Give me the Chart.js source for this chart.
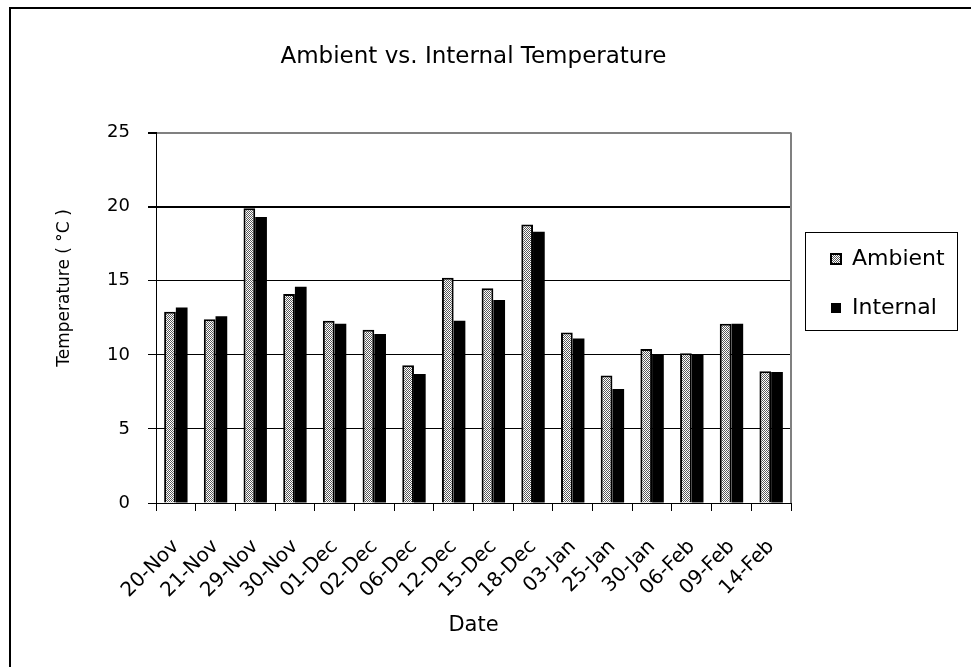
<!DOCTYPE html>
<html>
<head>
<meta charset="utf-8">
<title>Ambient vs. Internal Temperature</title>
<script src="https://cdn.jsdelivr.net/npm/chart.js@4/dist/chart.umd.min.js"></script>
<style>
  body { margin: 0; background: #fff; }
  canvas { display: block; }
</style>
</head>
<body>
<canvas id="grafico" width="971" height="667"></canvas>
<script>
// Datos
const fechas = ['20-Nov', '21-Nov', '29-Nov', '30-Nov', '01-Dec', '02-Dec', '06-Dec', '12-Dec',
                '15-Dec', '18-Dec', '03-Jan', '25-Jan', '30-Jan', '06-Feb', '09-Feb', '14-Feb'];
const ambiente = [12.9, 12.4, 19.9, 14.1, 12.3, 11.7, 9.3, 15.2, 14.5, 18.8, 11.5, 8.6, 10.4, 10.1, 12.1, 8.9];
const interna  = [13.2, 12.6, 19.3, 14.6, 12.1, 11.4, 8.7, 12.3, 13.7, 18.3, 11.1, 7.7, 10.0, 10.0, 12.1, 8.85];
const ticksY = [0, 5, 10, 15, 20, 25];

const fuente = 'DejaVu Sans';
Chart.defaults.color = '#000';
Chart.defaults.font.family = fuente;

const canvas = document.getElementById('grafico');
const ctx = canvas.getContext('2d');

// Trama punteada para "Ambient"
const tile = document.createElement('canvas');
tile.width = 2; tile.height = 2;
const tctx = tile.getContext('2d');
tctx.fillStyle = '#fff';
tctx.fillRect(0, 0, 2, 2);
tctx.fillStyle = '#5a5a5a';
tctx.fillRect(0, 0, 1, 1);
tctx.fillRect(1, 1, 1, 1);
const trama = ctx.createPattern(tile, 'repeat');

// Marco, borde derecho del area y titulo del eje Y
const decoracion = {
    id: 'decoracion',
    afterLayout(chart) {
        const legend = chart.legend;
        legend.left = 804;
        legend.top = 221;
        legend.right = legend.left + 160;
        legend.bottom = legend.top + 150;
        legend.width = 160;
        legend.height = 150;
    },
    afterDraw(chart) {
        const c = chart.ctx;
        const area = chart.chartArea;
        c.save();
        // marco exterior
        c.strokeStyle = '#000';
        c.lineWidth = 2;
        c.strokeRect(10, 8, 1200, 1200);
        // borde derecho del area
        c.strokeStyle = '#808080';
        c.lineWidth = 2;
        c.beginPath();
        c.moveTo(area.right, area.top);
        c.lineTo(area.right, area.bottom);
        c.stroke();
        // caja de la leyenda
        c.strokeStyle = '#000';
        c.lineWidth = 1;
        c.strokeRect(805.5, 232.5, 152, 98);
        // titulo eje Y
        c.fillStyle = '#000';
        c.font = '17px "' + fuente + '"';
        c.textAlign = 'center';
        c.textBaseline = 'middle';
        c.translate(65, 288);
        c.rotate(-Math.PI / 2);
        c.fillText('Temperature ( °C )', 0, 0);
        c.restore();
    }
};

new Chart(ctx, {
    type: 'bar',
    data: {
        labels: fechas,
        datasets: [{
            label: 'Ambient',
            data: ambiente,
            backgroundColor: trama,
            borderColor: '#000',
            borderWidth: 2,
            borderSkipped: 'start'
        }, {
            label: 'Internal',
            data: interna,
            backgroundColor: '#000',
            borderColor: '#000',
            borderWidth: 0
        }]
    },
    options: {
        responsive: false,
        animation: false,
        categoryPercentage: 0.59,
        barPercentage: 1.0,
        layout: { padding: { left: 10, top: 8, right: 180, bottom: 5 } },
        plugins: {
            title: {
                display: true,
                text: 'Ambient vs. Internal Temperature',
                fullSize: false,
                font: { size: 23, weight: 'normal' },
                padding: { top: 35, bottom: 62 }
            },
            legend: {
                position: 'chartArea',
                align: 'start',
                labels: {
                    boxWidth: 10,
                    boxHeight: 10,
                    padding: 27,
                    font: { size: 22 }
                }
            },
            tooltip: { enabled: false }
        },
        scales: {
            x: {
                afterFit(scale) { scale.height = 159; },
                grid: {
                    drawOnChartArea: false,
                    tickLength: 8,
                    tickColor: '#000'
                },
                border: { color: '#000', width: 1 },
                ticks: {
                    minRotation: 45,
                    maxRotation: 45,
                    padding: 24,
                    font: { size: 20 }
                },
                title: {
                    display: true,
                    text: 'Date',
                    font: { size: 21 },
                    padding: { top: 0, bottom: 24 }
                }
            },
            y: {
                min: 0,
                max: 25,
                afterFit(scale) { scale.width = 146; },
                afterBuildTicks(scale) {
                    scale.ticks = ticksY.map(v => ({ value: v }));
                },
                grid: {
                    color: c => c.tick && c.tick.value === 25 ? '#808080' : '#000',
                    lineWidth: c => c.tick && (c.tick.value === 25 || c.tick.value === 20) ? 2 : 1,
                    tickLength: 8,
                    tickColor: '#000'
                },
                border: { color: '#000', width: 1 },
                ticks: {
                    padding: 18,
                    font: { size: 18 }
                }
            }
        }
    },
    plugins: [decoracion]
});
</script>
</body>
</html>
